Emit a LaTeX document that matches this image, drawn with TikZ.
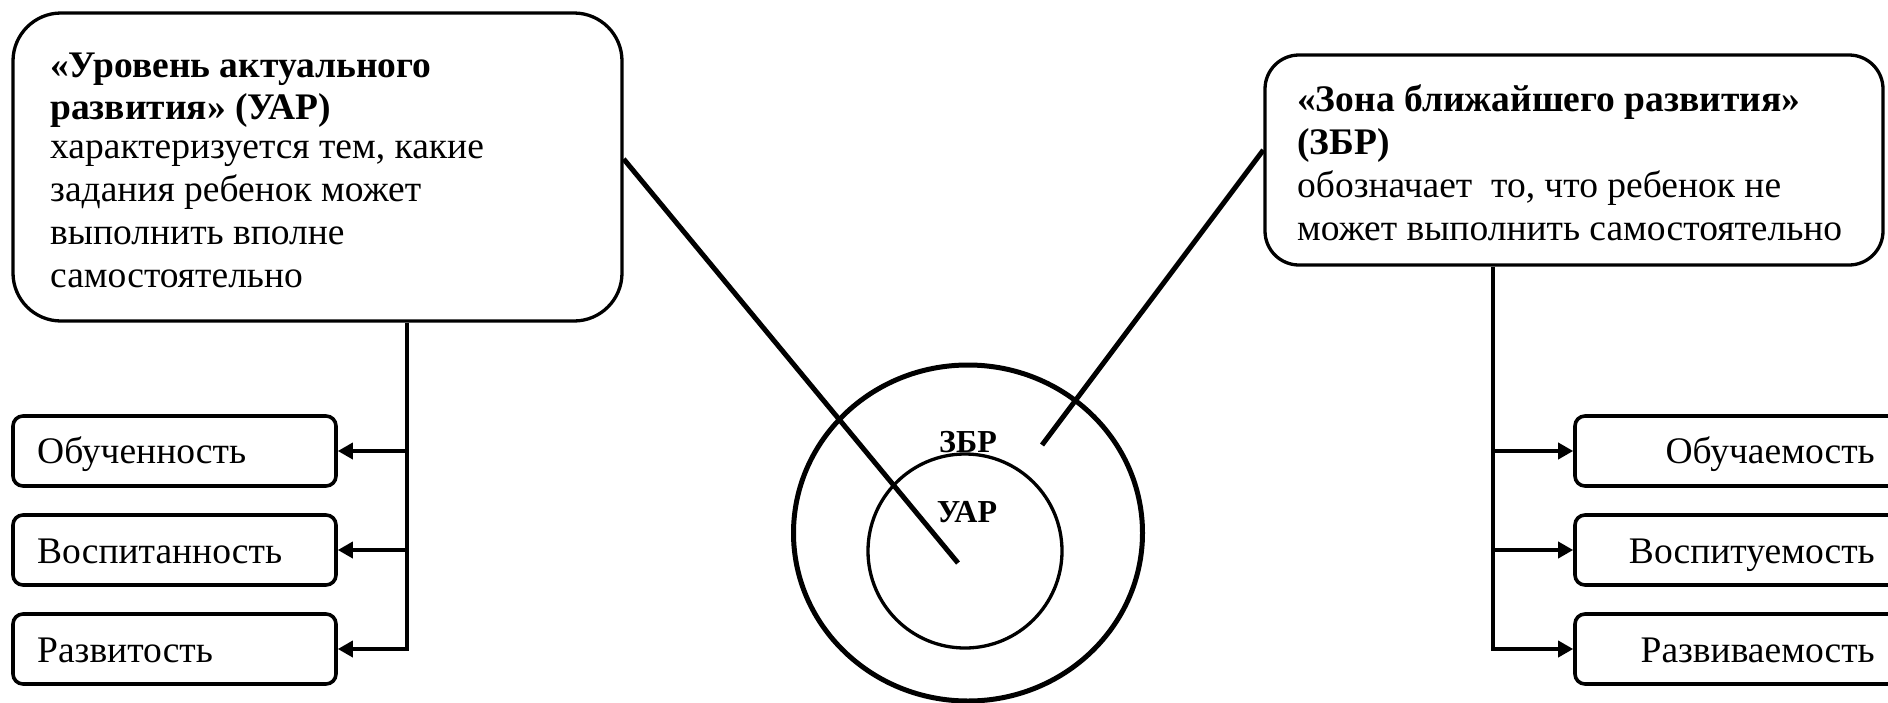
\documentclass[tikz,border=0pt]{standalone}
\usepackage{fontspec}
\setmainfont{Liberation Serif}
\usetikzlibrary{arrows.meta,shapes.geometric}
\begin{document}
\begin{tikzpicture}[x=1pt,y=-1pt,
  bigbox/.style={draw, line width=3.3pt, rectangle, inner sep=0pt},
  smallbox/.style={draw, line width=3.6pt, rectangle, rounded corners=10pt, minimum height=70pt, inner sep=0pt},
  txt/.style={inner sep=0pt, font=\fontsize{37.5}{43}\selectfont},
  lbl/.style={inner sep=0pt, font=\fontsize{32}{36}\selectfont\bfseries},
  conn/.style={line width=5pt},
  arr/.style={line width=3.5pt, -{Triangle[length=15pt,width=16pt]}},
]
\useasboundingbox (0,0) rectangle (1888,702);
\clip (0,0) rectangle (1888,702);

% big boxes
\node[bigbox, rounded corners=48pt, minimum width=609pt, minimum height=308pt] (uar) at (317.5,167) {};
\node[txt, align=left, anchor=north west] (uartext) at (50,47)
  {\rule{0pt}{30pt}\textbf{«Уровень актуального}\\[-1pt]
   \textbf{развития» (УАР)}\\[-4pt]
   характеризуется тем, какие\\
   задания ребенок может\\
   выполнить вполне\\
   самостоятельно};

\node[bigbox, rounded corners=34pt, minimum width=618pt, minimum height=210pt] (zbr) at (1574,160) {};
\node[txt, align=left, anchor=north west] (zbrtext) at (1297,81)
  {\rule{0pt}{30pt}\textbf{«Зона ближайшего развития»}\\
   \textbf{(ЗБР)}\\
   обозначает\ \ то, что ребенок не\\
   может выполнить самостоятельно};

% circles
\node[draw, ellipse, line width=5pt, minimum width=349pt, minimum height=336pt, inner sep=0pt] (outer) at (968,533) {};
\node[draw, circle, line width=3.3pt, minimum size=194pt, inner sep=0pt] (inner) at (965,551) {};
\node[lbl, anchor=base] (zbrlbl) at (968,452) {ЗБР};
\node[lbl, anchor=base] (uarlbl) at (967,522) {УАР};

% connectors to circles
\coordinate (uarend) at (958,563);
\coordinate (zbrend) at (1042,445);
\draw[conn] ([yshift=8pt]uar.east) -- (uarend);
\draw[conn] ([yshift=10pt]zbr.west) -- (zbrend);

% left small boxes
\node[smallbox, minimum width=323pt] (l1) at (174.5,451) {};
\node[smallbox, minimum width=323pt] (l2) at (174.5,550) {};
\node[smallbox, minimum width=323pt] (l3) at (174.5,649) {};
\node[txt, anchor=base west] (l1t) at (37,463) {Обученность};
\node[txt, anchor=base west] (l2t) at (37,563) {Воспитанность};
\node[txt, anchor=base west] (l3t) at (37,662) {Развитость};

% right small boxes
\node[smallbox, minimum width=385pt] (r1) at (1767.5,451) {};
\node[smallbox, minimum width=385pt] (r2) at (1767.5,550) {};
\node[smallbox, minimum width=385pt] (r3) at (1767.5,649) {};
\node[txt, anchor=base east] (r1t) at (1875,463) {Обучаемость};
\node[txt, anchor=base east] (r2t) at (1875,563) {Воспитуемость};
\node[txt, anchor=base east] (r3t) at (1875,662) {Развиваемость};

% trees
\coordinate (ltrunk) at (407,0);
\coordinate (rtrunk) at (1493,0);
\draw[arr] (uar.south -| ltrunk) -- (ltrunk |- l3.east) -- (l3.east);
\draw[arr] (ltrunk |- l1.east) -- (l1.east);
\draw[arr] (ltrunk |- l2.east) -- (l2.east);
\draw[arr] (zbr.south -| rtrunk) -- (rtrunk |- r3.west) -- (r3.west);
\draw[arr] (rtrunk |- r1.west) -- (r1.west);
\draw[arr] (rtrunk |- r2.west) -- (r2.west);
\end{tikzpicture}
\end{document}
